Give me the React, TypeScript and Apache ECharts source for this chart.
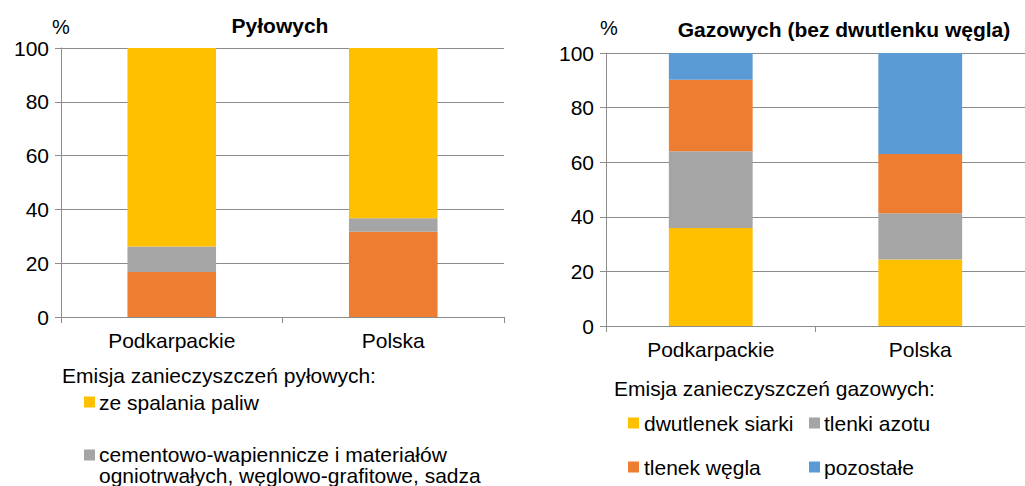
import React, { useEffect, useRef } from "react";
import * as echarts from "echarts";

const categories = ["Podkarpackie", "Polska"];

// Pyłowych (dust) — shares in %
const dustNames = [
  "pozostałe",
  "cementowo-wapiennicze i materiałów\nogniotrwałych, węglowo-grafitowe, sadza",
  "ze spalania paliw",
];
const dustOther = [16.7, 31.7];
const dustCement = [9.5, 5.0];
const dustFuel = [73.8, 63.3];
const dustColors = ["#ED7D31", "#A5A5A5", "#FFC000"];

// Gazowych (gas, excl. CO2) — shares in %
const gasNames = ["dwutlenek siarki", "tlenki azotu", "tlenek węgla", "pozostałe"];
const gasSO2 = [35.9, 24.4];
const gasNOx = [28.1, 16.9];
const gasCO = [26.2, 21.7];
const gasOther = [9.8, 37.0];
const gasColors = ["#FFC000", "#A5A5A5", "#ED7D31", "#5B9BD5"];

const titles = ["Pyłowych", "Gazowych (bez dwutlenku węgla)"];
const legendHeads = ["Emisja zanieczyszczeń pyłowych:", "Emisja zanieczyszczeń gazowych:"];

const FONT = "'Liberation Sans', Arial, sans-serif";
const GRID_COLOR = "#8c8c8c";

export default function App() {
  const ref = useRef<HTMLDivElement>(null);
  useEffect(() => {
    if (!ref.current) return;
    const chart = echarts.init(ref.current, null, { renderer: "svg" });

    const yAxisBase = (gridIndex: number) => ({
      type: "value",
      gridIndex,
      min: 0,
      max: 100,
      interval: 20,
      axisLine: { show: true, lineStyle: { color: GRID_COLOR, width: 1 } },
      axisTick: { show: true, length: 6, lineStyle: { color: GRID_COLOR } },
      splitLine: { show: true, lineStyle: { color: GRID_COLOR, width: 1 } },
      axisLabel: { fontSize: 21, color: "#000", fontFamily: FONT, margin: 12 },
    });
    const xAxisBase = (gridIndex: number) => ({
      type: "category",
      gridIndex,
      data: categories,
      axisLine: { show: true, lineStyle: { color: GRID_COLOR, width: 1 } },
      axisTick: { show: true, length: 6, lineStyle: { color: GRID_COLOR } },
      axisLabel: { fontSize: 21, color: "#000", fontFamily: FONT, margin: 13 },
    });

    const dustData = [dustOther, dustCement, dustFuel];
    const gasData = [gasSO2, gasNOx, gasCO, gasOther];

    const series: any[] = [];
    dustData.forEach((d, i) =>
      series.push({
        type: "bar",
        name: dustNames[i],
        stack: "dust",
        xAxisIndex: 0,
        yAxisIndex: 0,
        barWidth: "40%",
        data: d,
        itemStyle: { color: dustColors[i] },
      })
    );
    gasData.forEach((d, i) =>
      series.push({
        type: "bar",
        name: gasNames[i],
        stack: "gas",
        xAxisIndex: 1,
        yAxisIndex: 1,
        barWidth: "40%",
        data: d,
        itemStyle: { color: gasColors[i] },
      })
    );

    const txt = (x: number, y: number, text: string, opts: any = {}) => ({
      type: "text",
      x,
      y,
      style: {
        text,
        fill: "#000",
        font: `${opts.bold ? "bold " : ""}${opts.size || 21}px ${FONT}`,
        align: opts.align || "left",
        verticalAlign: "middle",
      },
    });
    const sq = (x: number, y: number, color: string) => ({
      type: "rect",
      shape: { x, y: y - 5.5, width: 11, height: 11 },
      style: { fill: color },
    });

    const graphic: any[] = [
      txt(52, 27, "%", { size: 20 }),
      txt(600, 28, "%", { size: 20 }),
      txt(280, 25, titles[0], { bold: true, align: "center" }),
      txt(844, 29, titles[1], { bold: true, align: "center" }),
      txt(62, 375, legendHeads[0]),
      sq(84, 402, dustColors[2]),
      txt(99, 402, dustNames[2]),
      sq(84, 455, dustColors[1]),
      {
        type: "text",
        x: 99,
        y: 444,
        style: {
          text: dustNames[1],
          fill: "#000",
          font: `21px ${FONT}`,
          align: "left",
          verticalAlign: "top",
          lineHeight: 21,
        },
      },
      txt(614, 388, legendHeads[1]),
      sq(628, 423, gasColors[0]),
      txt(644, 423, gasNames[0]),
      sq(809, 423, gasColors[1]),
      txt(824, 423, gasNames[1]),
      sq(628, 467, gasColors[2]),
      txt(644, 467, gasNames[2]),
      sq(809, 467, gasColors[3]),
      txt(824, 467, gasNames[3]),
    ];

    chart.setOption({
      animation: false,
      textStyle: { fontFamily: FONT },
      grid: [
        { left: 61, top: 48, width: 443, height: 269, containLabel: false },
        { left: 606, top: 53, width: 431, height: 273, containLabel: false },
      ],
      xAxis: [xAxisBase(0), xAxisBase(1)],
      yAxis: [yAxisBase(0), yAxisBase(1)],
      series,
      graphic,
    });
    return () => chart.dispose();
  }, []);
  return (
    <div
      ref={ref}
      style={{ position: "fixed", left: 0, top: 0, width: 1025, height: 486, background: "#fff" }}
    />
  );
}
